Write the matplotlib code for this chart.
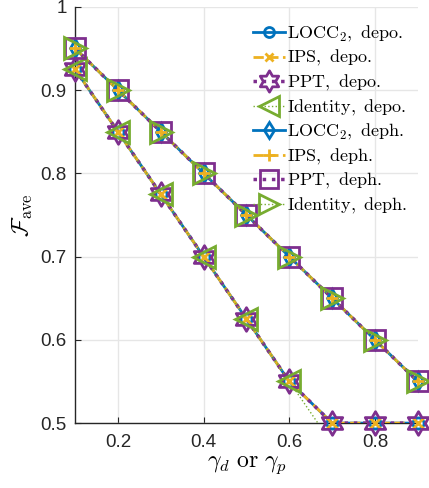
import numpy as np
import matplotlib.pyplot as plt
from matplotlib.path import Path
from matplotlib.lines import Line2D

plt.rcParams['mathtext.fontset'] = 'cm'
plt.rcParams['font.family'] = ['Liberation Sans', 'DejaVu Sans']

# data
gamma = np.array([0.1, 0.2, 0.3, 0.4, 0.5, 0.6, 0.7, 0.8, 0.9])
locc_depo = np.array([0.925, 0.85, 0.775, 0.70, 0.625, 0.55, 0.50, 0.50, 0.50])
ips_depo = np.array([0.925, 0.85, 0.775, 0.70, 0.625, 0.55, 0.50, 0.50, 0.50])
ppt_depo = np.array([0.925, 0.85, 0.775, 0.70, 0.625, 0.55, 0.50, 0.50, 0.50])
id_depo = np.array([0.925, 0.85, 0.775, 0.70, 0.625, 0.55, 0.475, 0.40, 0.325])
locc_deph = np.array([0.95, 0.90, 0.85, 0.80, 0.75, 0.70, 0.65, 0.60, 0.55])
ips_deph = np.array([0.95, 0.90, 0.85, 0.80, 0.75, 0.70, 0.65, 0.60, 0.55])
ppt_deph = np.array([0.95, 0.90, 0.85, 0.80, 0.75, 0.70, 0.65, 0.60, 0.55])
id_deph = np.array([0.95, 0.90, 0.85, 0.80, 0.75, 0.70, 0.65, 0.60, 0.55])

labels = [r'$\mathrm{LOCC}_2\mathrm{,\ depo.}$', r'$\mathrm{IPS,\ depo.}$',
          r'$\mathrm{PPT,\ depo.}$', r'$\mathrm{Identity,\ depo.}$',
          r'$\mathrm{LOCC}_2\mathrm{,\ deph.}$', r'$\mathrm{IPS,\ deph.}$',
          r'$\mathrm{PPT,\ deph.}$', r'$\mathrm{Identity,\ deph.}$']

# star of david marker
ang = np.pi / 2 + np.arange(12) * np.pi / 6
rad = np.where(np.arange(12) % 2 == 0, 1.0, 1 / np.sqrt(3))
verts = np.column_stack([rad * np.cos(ang), rad * np.sin(ang)])
verts = np.vstack([verts, verts[:1]])
hexagram = Path(verts, closed=True)

blue = '#0072BD'
orange = '#EDB120'
purple = '#7E2F8E'
green = '#77AC30'

styles = [
    (locc_depo, blue, '-', 2.0, 'o', 8),
    (ips_depo, orange, '--', 2.0, 'x', 7),
    (ppt_depo, purple, ':', 2.5, hexagram, 17),
    (id_depo, green, ':', 1.0, '<', 16),
    (locc_deph, blue, '-', 2.0, 'd', 9),
    (ips_deph, orange, '--', 2.0, '+', 9),
    (ppt_deph, purple, ':', 2.5, 's', 14),
    (id_deph, green, ':', 1.0, '>', 16),
]

fig = plt.figure(figsize=(4.29, 4.88), dpi=100)
ax = fig.add_axes([0.175, 0.133, 0.799, 0.853])

ymin, ymax = 0.5, 1.0
handles = []
for y, c, ls, lw, m, ms in styles:
    ax.plot(gamma, y, color=c, ls=ls, lw=lw, zorder=3)
    ym = np.ma.masked_where(y < ymin, y)
    ax.plot(gamma, ym, ls='none', marker=m, ms=ms, mfc='none', mec=c,
            mew=2.0, clip_on=False, zorder=4)
    handles.append(Line2D([], [], color=c, ls=ls, lw=lw, marker=m,
                          ms=ms * 0.9, mfc='none', mec=c, mew=2.0))

ax.set_xlim(0.1, 0.9)
ax.set_ylim(ymin, ymax)
ax.set_xticks([0.2, 0.4, 0.6, 0.8])
ax.set_yticks([0.5, 0.6, 0.7, 0.8, 0.9, 1.0])
ax.set_yticklabels(['0.5', '0.6', '0.7', '0.8', '0.9', '1'])
ax.grid(True, color='#e6e6e6', lw=1.0, zorder=0)
ax.set_axisbelow(True)
for s in ['top', 'right']:
    ax.spines[s].set_visible(False)
for s in ['left', 'bottom']:
    ax.spines[s].set_color('#262626')
    ax.spines[s].set_linewidth(1.0)
ax.tick_params(direction='in', length=4, labelsize=13.5, colors='#262626')
ax.tick_params(axis='x', pad=8)
ax.tick_params(axis='y', pad=6)

ax.set_xlabel(r'$\gamma_d\ \mathrm{or}\ \gamma_p$', fontsize=17, labelpad=2)
ax.set_ylabel(r'$\mathcal{F}_{\rm ave}$', fontsize=17, labelpad=4)

ax.legend(handles, labels, loc='upper right', bbox_to_anchor=(1.0, 0.985),
          frameon=False, fontsize=13, handlelength=1.8, handletextpad=0.1,
          labelspacing=0.25, borderaxespad=0.2)

fig.savefig('out.png', dpi=100)
